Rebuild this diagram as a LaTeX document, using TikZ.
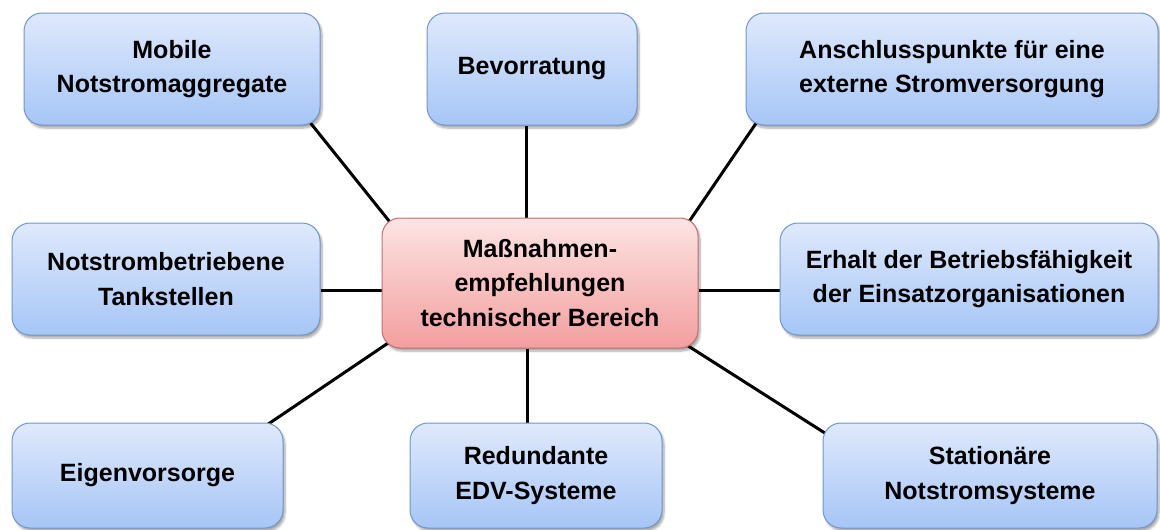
\documentclass[tikz,border=0pt]{standalone}
\usepackage{fontspec}
\setmainfont{Liberation Sans}
\usetikzlibrary{shadows.blur,backgrounds}
\definecolor{bluetop}{RGB}{223,233,252}
\definecolor{bluebot}{RGB}{166,198,246}
\definecolor{blueedge}{RGB}{112,150,206}
\definecolor{redtop}{RGB}{253,228,228}
\definecolor{redbot}{RGB}{243,158,158}
\definecolor{rededge}{RGB}{196,110,110}
\tikzset{
  box/.style={rectangle, rounded corners=18pt, inner sep=0pt, align=center,
    font=\bfseries\fontsize{25}{34.5}\selectfont, line width=1pt,
    blur shadow={shadow xshift=2pt, shadow yshift=-3pt, shadow blur steps=6, shadow opacity=35}},
  bluebox/.style={box, draw=blueedge, top color=bluetop, bottom color=bluebot},
  redbox/.style={box, draw=rededge, top color=redtop, bottom color=redbot},
  link/.style={draw=black, line width=3pt}
}
\begin{document}
\begin{tikzpicture}[x=1pt,y=-1pt]
\useasboundingbox (0,0) rectangle (1160,530);

% central topic
\node[redbox, minimum width=316, minimum height=130] (ctr) at (540,283)
  {Maßnahmen-\\empfehlungen\\technischer Bereich};

% surrounding measures
\node[bluebox, minimum width=296, minimum height=112] (mob) at (172,69)
  {Mobile\\Notstromaggregate};
\node[bluebox, minimum width=210, minimum height=112] (bev) at (532,69)
  {Bevorratung};
\node[bluebox, minimum width=412, minimum height=112] (ans) at (952,69)
  {Anschlusspunkte für eine\\externe Stromversorgung};
\node[bluebox, minimum width=308, minimum height=112] (tank) at (166,279)
  {Notstrombetriebene\\Tankstellen};
\node[bluebox, minimum width=378, minimum height=112] (erh) at (969,279)
  {Erhalt der Betriebsfähigkeit\\der Einsatzorganisationen};
\node[bluebox, minimum width=271, minimum height=105] (eig) at (147.5,475.5)
  {Eigenvorsorge};
\node[bluebox, minimum width=252, minimum height=105] (red) at (536,475.5)
  {Redundante\\EDV-Systeme};
\node[bluebox, minimum width=334, minimum height=105] (sta) at (990,475.5)
  {Stationäre\\Notstromsysteme};

% spokes, drawn behind the boxes
\begin{scope}[on background layer]
  \path[link] ([shift={(-16,-10)}]mob.south east) -- ([shift={(16,14)}]ctr.north west);
  \path[link] ([xshift=-6]bev.south) -- ([xshift=-14]ctr.north);
  \path[link] ([shift={(15.5,-9.5)}]ans.south west) -- ([shift={(-14.5,11.5)}]ctr.north east);
  \path[link] ([shift={(0,11)}]tank.east) -- ([shift={(0,7)}]ctr.west);
  \path[link] ([shift={(0,7)}]ctr.east) -- ([shift={(0,11)}]erh.west);
  \path[link] ([shift={(-24.5,7.8)}]eig.north east) -- ([shift={(14.5,-10.8)}]ctr.south west);
  \path[link] ([xshift=-13]ctr.south) -- ([xshift=-9]red.north);
  \path[link] ([shift={(-21.3,-9.5)}]ctr.south east) -- ([shift={(13.3,17.5)}]sta.north west);
\end{scope}
\end{tikzpicture}
\end{document}
